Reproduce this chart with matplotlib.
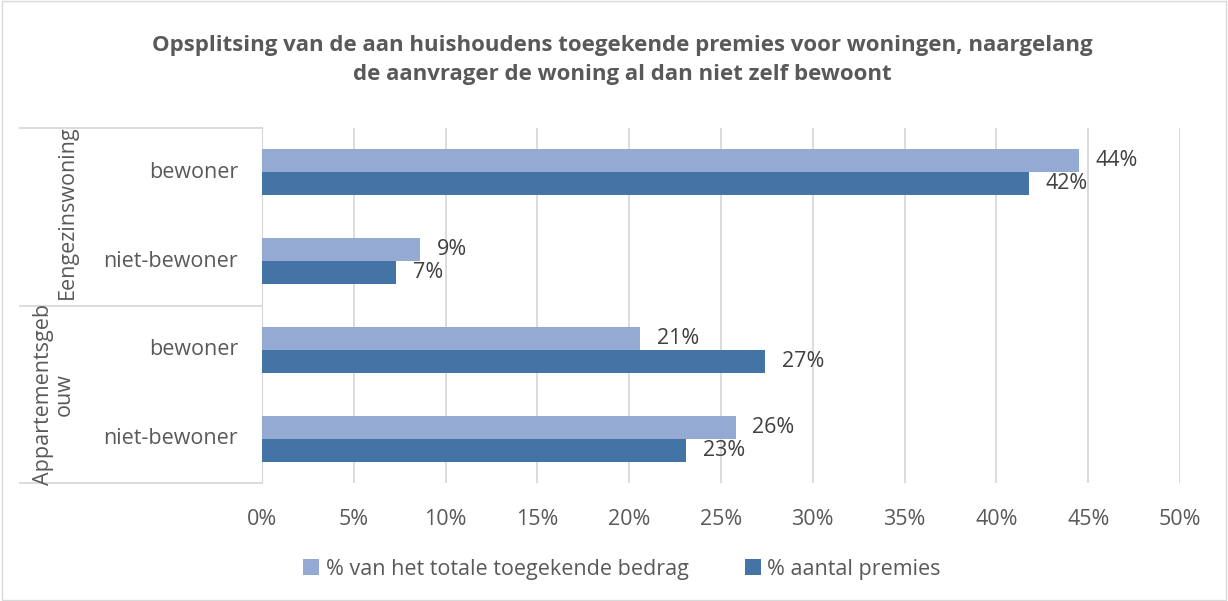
import numpy as np
import matplotlib.pyplot as plt
import matplotlib.transforms as mtransforms
from matplotlib.patches import Rectangle

plt.rcParams['font.family'] = ['Open Sans', 'DejaVu Sans']

# gegevens
groepen = ['Eengezinswoning', 'Appartementsgeb\nouw']
subcats = ['bewoner', 'niet-bewoner', 'bewoner', 'niet-bewoner']
bedrag = [44.5, 8.6, 20.6, 25.8]   # % van het totale toegekende bedrag
aantal = [41.8, 7.3, 27.4, 23.1]   # % aantal premies
lbl_bedrag = ['44%', '9%', '21%', '26%']
lbl_aantal = ['42%', '7%', '27%', '23%']

licht = '#94aad2'
donker = '#4473a6'
grijs = '#595959'
fs = 15.5

fig = plt.figure(figsize=(12.28, 6.01), dpi=100)
ax = fig.add_axes([262/1228, 1-483/601, 918/1228, 355/601])

y = np.arange(len(subcats))
h = 0.26
ax.barh(y - h/2, bedrag, height=h, color=licht, label='% van het totale toegekende bedrag', zorder=3)
ax.barh(y + h/2, aantal, height=h, color=donker, label='% aantal premies', zorder=3)

for i in range(len(subcats)):
    ax.text(bedrag[i] + 0.9, y[i] - h/2, lbl_bedrag[i], va='center', ha='left', fontsize=fs, color='#404040')
    ax.text(aantal[i] + 0.9, y[i] + h/2, lbl_aantal[i], va='center', ha='left', fontsize=fs, color='#404040')

ax.set_xlim(0, 50)
ax.set_ylim(3.5, -0.5)
ax.set_xticks(np.arange(0, 51, 5))
ax.set_xticklabels([f'{v}%' for v in range(0, 51, 5)], fontsize=fs, color=grijs)
ax.tick_params(axis='x', length=0, pad=19)
ax.set_yticks([])
ax.grid(axis='x', color='#d9d9d9', linewidth=1.3, zorder=0)
for s in ['top', 'right', 'bottom']:
    ax.spines[s].set_visible(False)
ax.spines['left'].set_color('#d9d9d9')

# categorie-as met twee niveaus
trans = mtransforms.blended_transform_factory(ax.transAxes, ax.transData)
for i, s in enumerate(subcats):
    ax.text(-24/918, y[i], s, transform=trans, ha='right', va='center', fontsize=fs, color=grijs)
for yy in [-0.5, 1.5, 3.5]:
    ax.plot([-242/918, 0], [yy, yy], transform=trans, color='#d9d9d9', lw=1.3, clip_on=False)
ax.text(-195/918, 0.45, groepen[0], transform=trans, rotation=90, ha='center', va='center', fontsize=fs, color=grijs)
ax.text(-208/918, 2.5, groepen[1], transform=trans, rotation=90, ha='center', va='center',
        fontsize=fs, color=grijs, multialignment='center', linespacing=1.0)

fig.text(622/1228, 1-60/601, 'Opsplitsing van de aan huishoudens toegekende premies voor woningen, naargelang\n'
         'de aanvrager de woning al dan niet zelf bewoont', ha='center', va='center',
         fontsize=16, fontweight='bold', color=grijs, linespacing=1.5)

fig.legend(loc='center', bbox_to_anchor=(622/1228, 1-569/601), ncol=2, frameon=False,
           fontsize=fs, labelcolor=grijs, handlelength=0.75, handleheight=0.75, handletextpad=0.3,
           columnspacing=2.6)

fig.patches.append(Rectangle((0.002, 0.002), 0.996, 0.996, transform=fig.transFigure,
                             fill=False, edgecolor='#d9d9d9', lw=1))

fig.savefig('out.png', dpi=100)
